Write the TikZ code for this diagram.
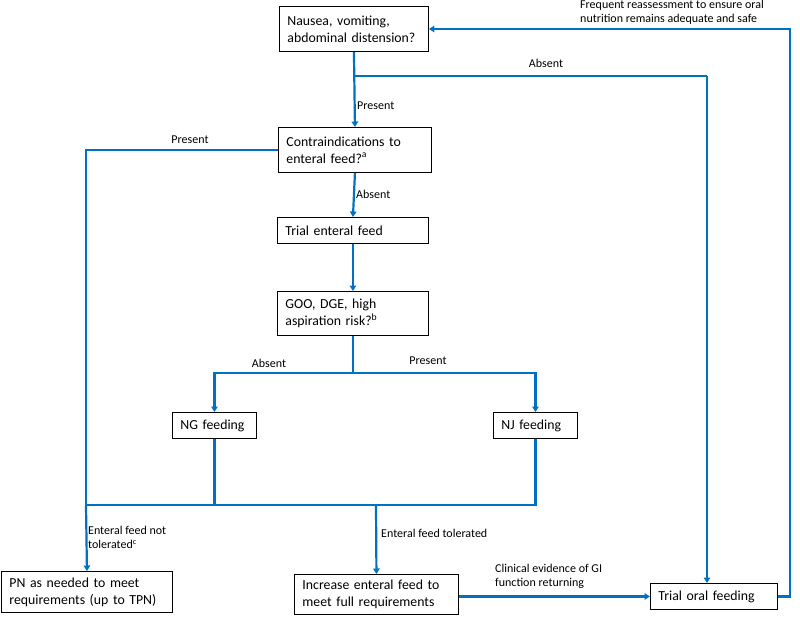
\documentclass[tikz,border=0pt]{standalone}
\usepackage{fontspec}
\setmainfont{Carlito}
\usetikzlibrary{arrows.meta}
\definecolor{flowblue}{RGB}{0,112,192}
\begin{document}
\begin{tikzpicture}[x=1pt,y=-1pt,
  box/.style={draw=black, line width=0.9pt, anchor=north west, align=left,
    inner xsep=8pt, inner ysep=0pt, font=\fontsize{13.8}{16.8}\selectfont},
  lbl/.style={font=\fontsize{12}{14}\selectfont, inner sep=0pt, align=left},
  line/.style={draw=flowblue, line width=2.2pt},
  arr/.style={line, -{Triangle[width=6.5pt,length=5.5pt]}}]
\useasboundingbox (0,0) rectangle (800,619);
% boxes
\node[box, text width=133, minimum height=45] (n1) at (279,6) {Nausea, vomiting,\\abdominal distension?};
\node[box, text width=137, minimum height=45] (n2) at (278,127) {Contraindications to\\enteral feed?\textsuperscript{a}};
\node[box, text width=135, minimum height=26] (n3) at (277,217) {Trial enteral feed};
\node[box, text width=135, minimum height=44] (n4) at (277,291) {GOO, DGE, high\\aspiration risk?\textsuperscript{b}};
\node[box, text width=68, minimum height=26] (ng) at (172,412) {NG feeding};
\node[box, text width=68, minimum height=26] (nj) at (493,412) {NJ feeding};
\node[box, text width=155, minimum height=41] (pn) at (1,571) {PN as needed to meet\\requirements (up to TPN)};
\node[box, text width=148, minimum height=40] (inc) at (294,574) {Increase enteral feed to\\meet full requirements};
\node[box, text width=111, minimum height=26] (oral) at (650,583) {Trial oral feeding};
% helper coordinates
\coordinate (y76) at (0,76);
\coordinate (c1) at (707,76);
\coordinate (c2) at (790,29);
\coordinate (y373) at (0,373);
\coordinate (j5) at (86,505);
\coordinate (j6) at (376,505);
% connectors
\draw[arr] (n1.south) -- (n2.north);
\draw[line] (n1.south |- y76) -- (c1);
\draw[arr] (c1) -- (c1 |- oral.north);
\draw[arr] (oral.east) -| (c2) -- (n1.east |- c2);
\draw[line] (n2.west) -| (j5);
\draw[arr] (j5) -- (pn.north);
\draw[arr] (n2.south) -- (n3.north);
\draw[arr] (n3.south) -- (n4.north);
\draw[line] (n4.south) -- (n4.south |- y373);
\draw[arr] (n4.south |- y373) -| (ng.north);
\draw[arr] (n4.south |- y373) -| (nj.north);
\draw[line] (ng.south) |- (j5);
\draw[line] (nj.south) |- (ng.south |- j5);
\draw[arr] (j6) -- (inc.north);
\draw[arr] (inc.east |- oral.west) -- (oral.west);
% labels
\node[lbl, anchor=west] (l1) at (357,106) {Present};
\node[lbl] (l2) at (546,63) {Absent};
\node[lbl, anchor=north west] (l3) at (580,0) {Frequent reassessment to ensure oral\\nutrition remains adequate and safe};
\node[lbl] (l4) at (190,140) {Present};
\node[lbl, anchor=west] (l5) at (356,194) {Absent};
\node[lbl] (l6) at (269,363) {Absent};
\node[lbl] (l7) at (428,361) {Present};
\node[lbl, anchor=north west] (l8) at (88,526) {Enteral feed not\\tolerated\textsuperscript{c}};
\node[lbl, anchor=west] (l9) at (381,533) {Enteral feed tolerated};
\node[lbl, anchor=north west] (l10) at (495,564) {Clinical evidence of GI\\function returning};
\end{tikzpicture}
\end{document}
